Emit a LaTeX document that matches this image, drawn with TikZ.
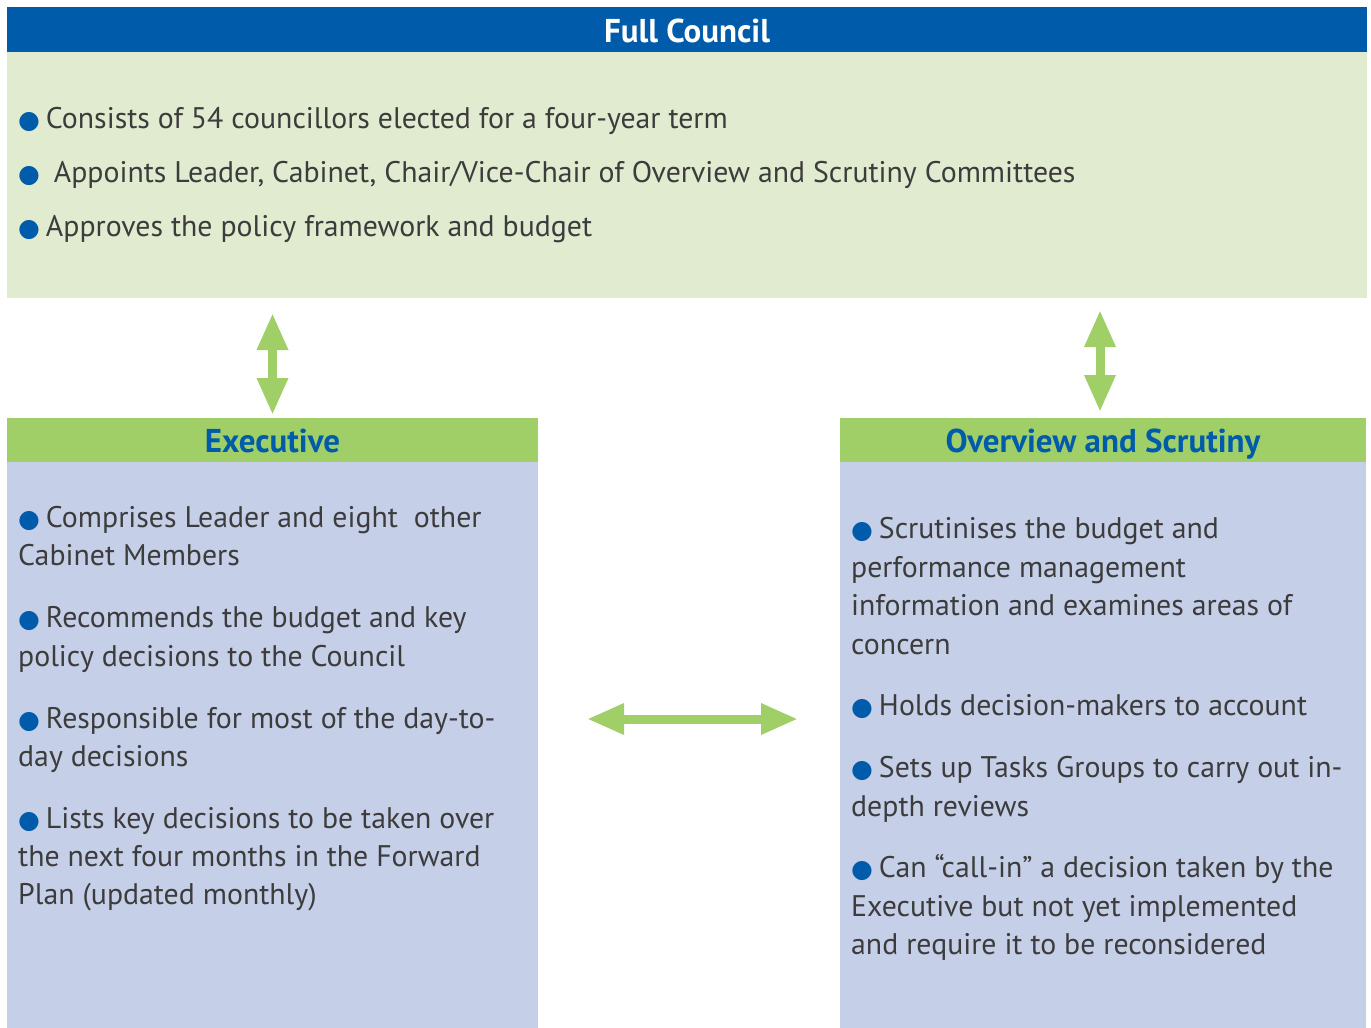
\documentclass[tikz,border=0pt]{standalone}
\usepackage{fontspec}
\setmainfont{PT Sans}
\newfontfamily\symfont{DejaVu Sans}
\usetikzlibrary{arrows.meta}
\definecolor{ocblue}{HTML}{005BAA}
\definecolor{palegreen}{HTML}{E0EBCF}
\definecolor{leafgreen}{HTML}{A0CF67}
\definecolor{lavender}{HTML}{C5CFE8}
\definecolor{bodytext}{HTML}{3C3C3C}
\newcommand\bul{{\symfont\color{ocblue}\fontsize{25}{25}\selectfont ●}\hspace{0.2em}}
\tikzset{
  panel/.style={rectangle, inner sep=0pt, outer sep=0pt, draw=none},
  headtext/.style={anchor=base, inner sep=0pt, font=\bfseries\fontsize{33}{33}\selectfont},
  line/.style={anchor=base west, inner sep=0pt, text=bodytext, font=\fontsize{29.8}{38}\selectfont},
  twoway/.style={draw=leafgreen, line width=9pt,
    {Triangle[length=37pt,width=29pt]}-{Triangle[length=37pt,width=29pt]}}
}
\begin{document}
\begin{tikzpicture}[x=1pt,y=-1pt]
\useasboundingbox (0,0) rectangle (1371,1028);
\fill[white] (0,0) rectangle (1371,1028);

% Full Council
\node[panel, fill=ocblue, minimum width=1360pt, minimum height=45pt] (fchead) at (687,29.5) {};
\node[panel, fill=palegreen, minimum width=1360pt, minimum height=246pt] (fcbody) at (687,175) {};
\node[headtext, text=white] (fctitle) at (687,42) {Full Council};
\node[line] (fc1) at (18,128) {\bul Consists of 54 councillors elected for a four-year term};
\node[line] (fc2) at (18,182) {\bul\ Appoints Leader, Cabinet, Chair/Vice-Chair of Overview and Scrutiny Committees};
\node[line] (fc3) at (18,236) {\bul Approves the policy framework and budget};

% Executive
\node[panel, fill=leafgreen, minimum width=531pt, minimum height=44pt] (exhead) at (272.5,440) {};
\node[panel, fill=lavender, minimum width=531pt, minimum height=566pt] (exbody) at (272.5,745) {};
\node[headtext, text=ocblue] (extitle) at (272.5,452) {Executive};
\node[line] (ex1a) at (18,527) {\bul Comprises Leader and eight\ \ other};
\node[line] (ex1b) at (18,565) {Cabinet Members};
\node[line] (ex2a) at (18,627) {\bul Recommends the budget and key};
\node[line] (ex2b) at (18,666) {policy decisions to the Council};
\node[line] (ex3a) at (18,728) {\bul Responsible for most of the day-to-};
\node[line] (ex3b) at (18,766) {day decisions};
\node[line] (ex4a) at (18,828) {\bul Lists key decisions to be taken over};
\node[line] (ex4b) at (18,866) {the next four months in the Forward};
\node[line] (ex4c) at (18,904) {Plan (updated monthly)};

% Overview and Scrutiny
\node[panel, fill=leafgreen, minimum width=526pt, minimum height=44pt] (oshead) at (1103,440) {};
\node[panel, fill=lavender, minimum width=526pt, minimum height=566pt] (osbody) at (1103,745) {};
\node[headtext, text=ocblue] (ostitle) at (1103,452) {Overview and Scrutiny};
\node[line] (os1a) at (851,538) {\bul Scrutinises the budget and};
\node[line] (os1b) at (851,577) {performance management};
\node[line] (os1c) at (851,615) {information and examines areas of};
\node[line] (os1d) at (851,654) {concern};
\node[line] (os2a) at (851,715) {\bul Holds decision-makers to account};
\node[line] (os3a) at (851,777) {\bul Sets up Tasks Groups to carry out in-};
\node[line] (os3b) at (851,816) {depth reviews};
\node[line] (os4a) at (851,877) {\bul Can “call-in” a decision taken by the};
\node[line] (os4b) at (851,916) {Executive but not yet implemented};
\node[line] (os4c) at (851,954) {and require it to be reconsidered};

% Two-way links
\draw[twoway, shorten <=15pt, shorten >=3pt] (exhead.north |- fcbody.south) -- (exhead.north);
\draw[twoway, shorten <=12pt, shorten >=6pt] ([xshift=-3pt]oshead.north |- fcbody.south) -- ([xshift=-3pt]oshead.north);
\draw[twoway, shorten <=49pt, shorten >=42pt] (exbody.east |- 0,719) -- (osbody.west |- 0,719);
\end{tikzpicture}
\end{document}
